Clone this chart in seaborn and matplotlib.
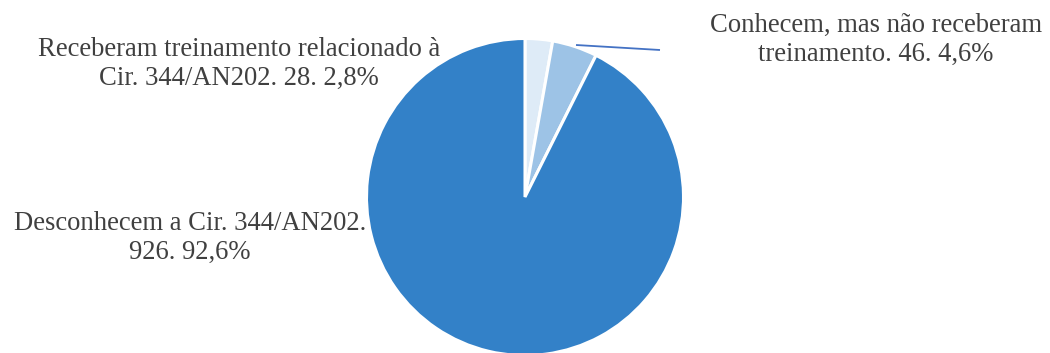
import matplotlib
matplotlib.use("Agg")
import matplotlib.pyplot as plt
import seaborn as sns

# Categories and counts
categories = [
    "Receberam treinamento relacionado à\nCir. 344/AN202",
    "Conhecem, mas não receberam\ntreinamento",
    "Desconhecem a Cir. 344/AN202.\n",
]
counts = [28, 46, 926]
percent_labels = ["2,8%", "4,6%", "92,6%"]
colors = ["#DEEBF7", "#9DC3E6", "#3381C8"]

sns.set_theme(style="white")
plt.rcParams["font.family"] = ["Liberation Serif", "DejaVu Serif"]

W, H = 1050, 353
fig = plt.figure(figsize=(W / 100, H / 100), dpi=100)
ax = fig.add_axes([0, 0, 1, 1])

cx, cy, r = 525, H - 197, 158.5
wedges, _ = ax.pie(
    counts,
    colors=colors,
    startangle=90,
    counterclock=False,
    center=(cx, cy),
    radius=r,
    wedgeprops=dict(edgecolor="white", linewidth=2.2),
)
ax.set_xlim(0, W)
ax.set_ylim(0, H)
ax.set_aspect("equal")
ax.axis("off")

text_kw = dict(fontsize=19.2, color="#404040", ha="center", va="center",
               linespacing=1.22)

ax.text(239, H - 64,
        "Receberam treinamento relacionado à\nCir. 344/AN202. %d. %s" % (counts[0], percent_labels[0]),
        **text_kw)
ax.text(876, H - 40,
        "Conhecem, mas não receberam\ntreinamento. %d. %s" % (counts[1], percent_labels[1]),
        **text_kw)
ax.text(190, H - 238,
        "Desconhecem a Cir. 344/AN202.\n%d. %s" % (counts[2], percent_labels[2]),
        **text_kw)

# Leader line from the small slice to its label
ax.plot([576, 660], [H - 45, H - 50], color="#4472C4", linewidth=1.3,
        solid_capstyle="butt")

fig.savefig("out.png", dpi=100, facecolor="white")
